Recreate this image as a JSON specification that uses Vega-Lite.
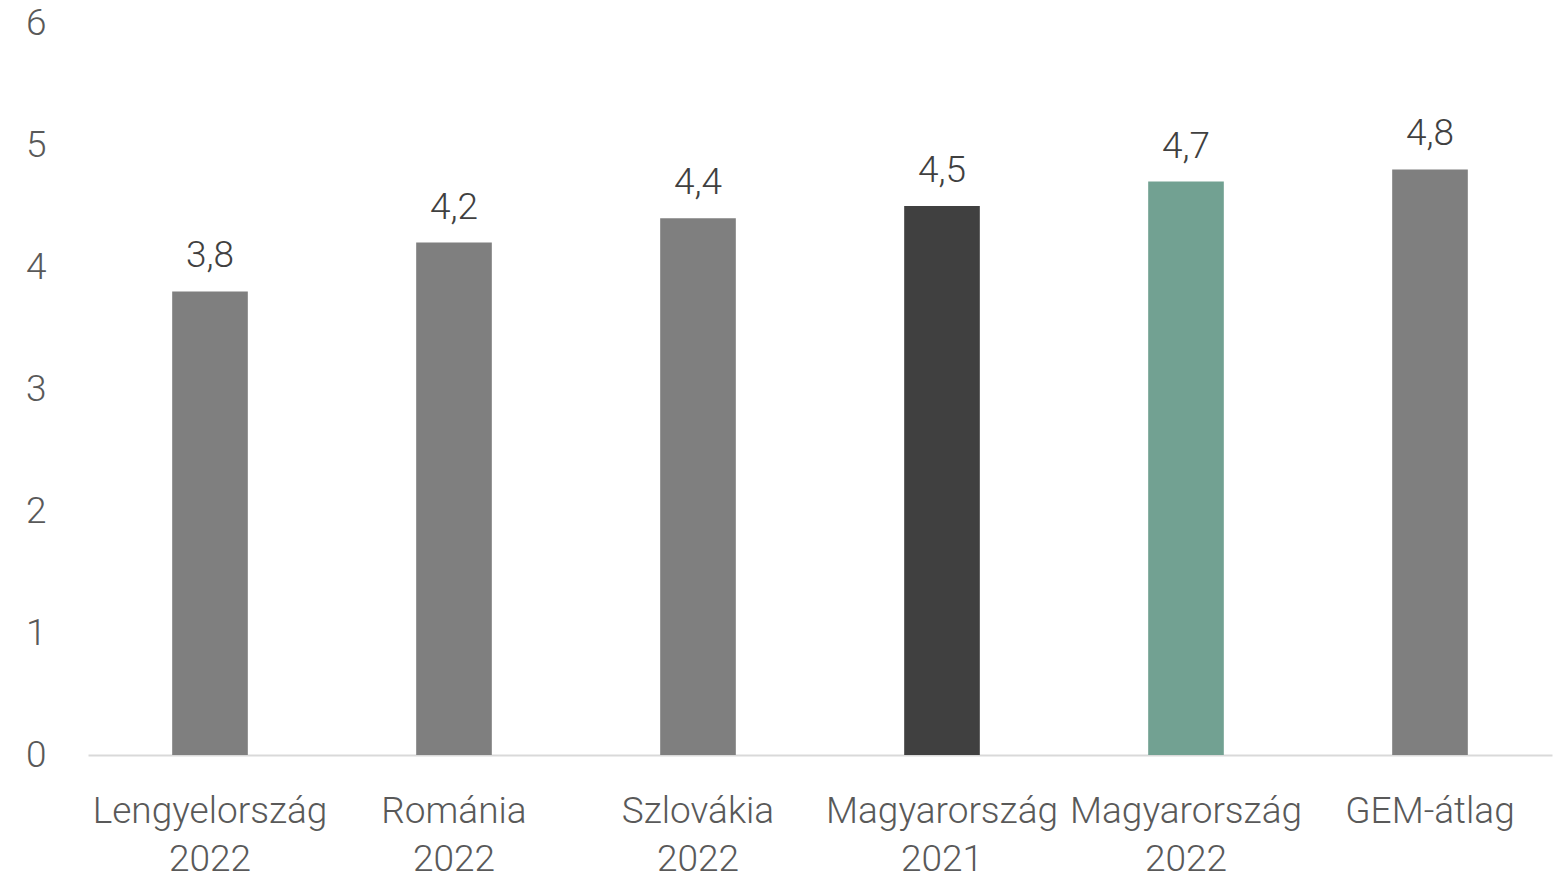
{
  "$schema": "https://vega.github.io/schema/vega-lite/v6.json",
  "width": 1464,
  "height": 732,
  "autosize": {"type": "none"},
  "padding": {"left": 88, "top": 23, "right": 3, "bottom": 123},
  "background": "white",
  "config": {
    "view": {"stroke": null},
    "font": "Roboto Light, Roboto",
    "locale": {"number": {"decimal": ",", "thousands": " ", "grouping": [3], "currency": ["", ""]}}
  },
  "data": {
    "values": [
      {"name": "Lengyelország 2022", "value": 3.8, "kind": "other"},
      {"name": "Románia 2022", "value": 4.2, "kind": "other"},
      {"name": "Szlovákia 2022", "value": 4.4, "kind": "other"},
      {"name": "Magyarország 2021", "value": 4.5, "kind": "hu2021"},
      {"name": "Magyarország 2022", "value": 4.7, "kind": "hu2022"},
      {"name": "GEM-átlag", "value": 4.8, "kind": "other"}
    ]
  },
  "encoding": {
    "x": {
      "field": "name",
      "type": "nominal",
      "sort": null,
      "scale": {"paddingInner": 0.69, "paddingOuter": 0.345},
      "axis": {
        "title": null,
        "labelAngle": 0,
        "labelExpr": "split(datum.value, ' ')",
        "labelFont": "Roboto Light, Roboto",
        "labelFontWeight": 300,
        "labelFontSize": 37,
        "labelColor": "#595959",
        "labelLineHeight": 48,
        "labelPadding": 38,
        "labelBaseline": "top",
        "labelLimit": 0,
        "labelOverlap": false,
        "ticks": false,
        "domainColor": "#d9d9d9",
        "domainWidth": 2
      }
    },
    "y": {
      "field": "value",
      "type": "quantitative",
      "scale": {"domain": [0, 6], "nice": false},
      "axis": {
        "title": null,
        "values": [0, 1, 2, 3, 4, 5, 6],
        "format": "d",
        "grid": false,
        "domain": false,
        "ticks": false,
        "labelFont": "Roboto Light, Roboto",
        "labelFontWeight": 300,
        "labelFontSize": 37,
        "labelColor": "#595959",
        "labelPadding": 42
      }
    }
  },
  "layer": [
    {
      "mark": {"type": "bar"},
      "encoding": {
        "color": {
          "field": "kind",
          "type": "nominal",
          "scale": {"domain": ["other", "hu2021", "hu2022"], "range": ["#7f7f7f", "#404040", "#72a192"]},
          "legend": null
        }
      }
    },
    {
      "mark": {"type": "text", "baseline": "bottom", "dy": -16, "font": "Roboto Light, Roboto", "fontWeight": 300, "fontSize": 37, "color": "#404040"},
      "encoding": {
        "text": {"field": "value", "type": "quantitative", "format": ".1f"}
      }
    }
  ]
}
